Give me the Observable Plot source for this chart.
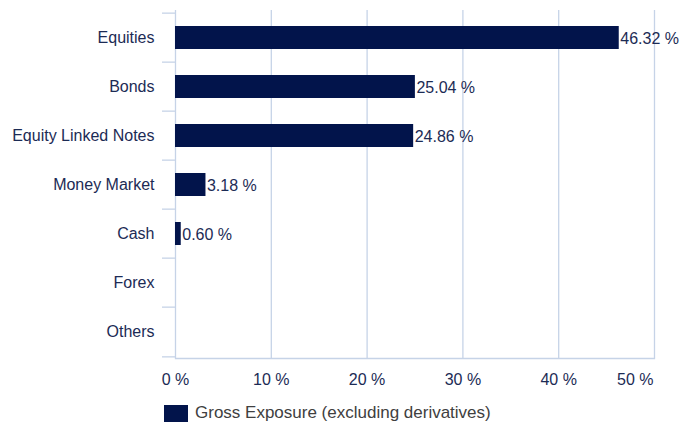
<!DOCTYPE html>
<html>
<head>
<meta charset="utf-8">
<script src="https://cdn.jsdelivr.net/npm/d3@7"></script>
<script src="https://cdn.jsdelivr.net/npm/@observablehq/plot@0.6"></script>
<style>
  body { margin: 0; background: #fff; font-family: "Liberation Sans", Arial, sans-serif; }
  #chart svg { display: block; }
  .legend { display: flex; align-items: center; margin: 8px 0 0 164px; font-size: 17px; color: #404040; }
  .legend .swatch { width: 24px; height: 17px; background: #02144b; margin-right: 7px; }
</style>
</head>
<body>
<div id="chart"></div>
<div class="legend"><span class="swatch"></span><span>Gross Exposure (excluding derivatives)</span></div>
<script>
// Asset allocation, gross exposure (% of fund)
const categories = ["Equities", "Bonds", "Equity Linked Notes", "Money Market", "Cash", "Forex", "Others"];
const exposure = [46.32, 25.04, 24.86, 3.18, 0.60, null, null];
const xTicks = [0, 10, 20, 30, 40, 50];

const data = categories.map((c, i) => ({category: c, value: exposure[i]}));
const bars = data.filter(d => d.value != null);

const width = 693, height = 395;
const marginTop = 10, marginBottom = 37, marginLeft = 175, marginRight = 39;
const step = (height - marginTop - marginBottom) / categories.length;

const navy = "#02144b";
const textColor = "#1c2b55";
const gridColor = "#c6d3e7";
const pct = d => `${d} %`;

const chart = Plot.plot({
  width, height, marginTop, marginBottom, marginLeft, marginRight,
  style: {fontFamily: "'Liberation Sans', Arial, sans-serif", fontSize: "16px", color: textColor},
  x: {domain: [0, 50]},
  y: {domain: categories, paddingInner: 0.54, paddingOuter: 0.27},
  marks: [
    Plot.gridX(xTicks, {stroke: gridColor, strokeOpacity: 1, strokeWidth: 1.3}),
    Plot.frame({anchor: "bottom", stroke: gridColor, strokeWidth: 1.3}),
    // category separators on the left
    Plot.axisY({tickSize: 13, tickFormat: () => "", label: null, stroke: gridColor, strokeWidth: 1.3, dy: -step / 2}),
    Plot.axisY([categories[categories.length - 1]], {tickSize: 13, tickFormat: () => "", label: null, stroke: gridColor, strokeWidth: 1.3, dy: step / 2}),
    Plot.axisY({tickSize: 0, tickPadding: 21, label: null, fill: textColor}),
    Plot.axisX(xTicks.slice(0, -1), {tickSize: 0, tickPadding: 15, tickFormat: pct, label: null, fill: textColor}),
    Plot.axisX(xTicks.slice(-1), {tickSize: 0, tickPadding: 15, tickFormat: pct, label: null, fill: textColor, textAnchor: "end", dx: -1}),
    Plot.barX(bars, {x: "value", y: "category", fill: navy}),
    Plot.text(bars, {x: "value", y: "category", text: d => `${d.value.toFixed(2)} %`, textAnchor: "start", dx: 1, dy: 1, fill: textColor, fontSize: 16})
  ]
});
document.getElementById("chart").append(chart);
</script>
</body>
</html>
